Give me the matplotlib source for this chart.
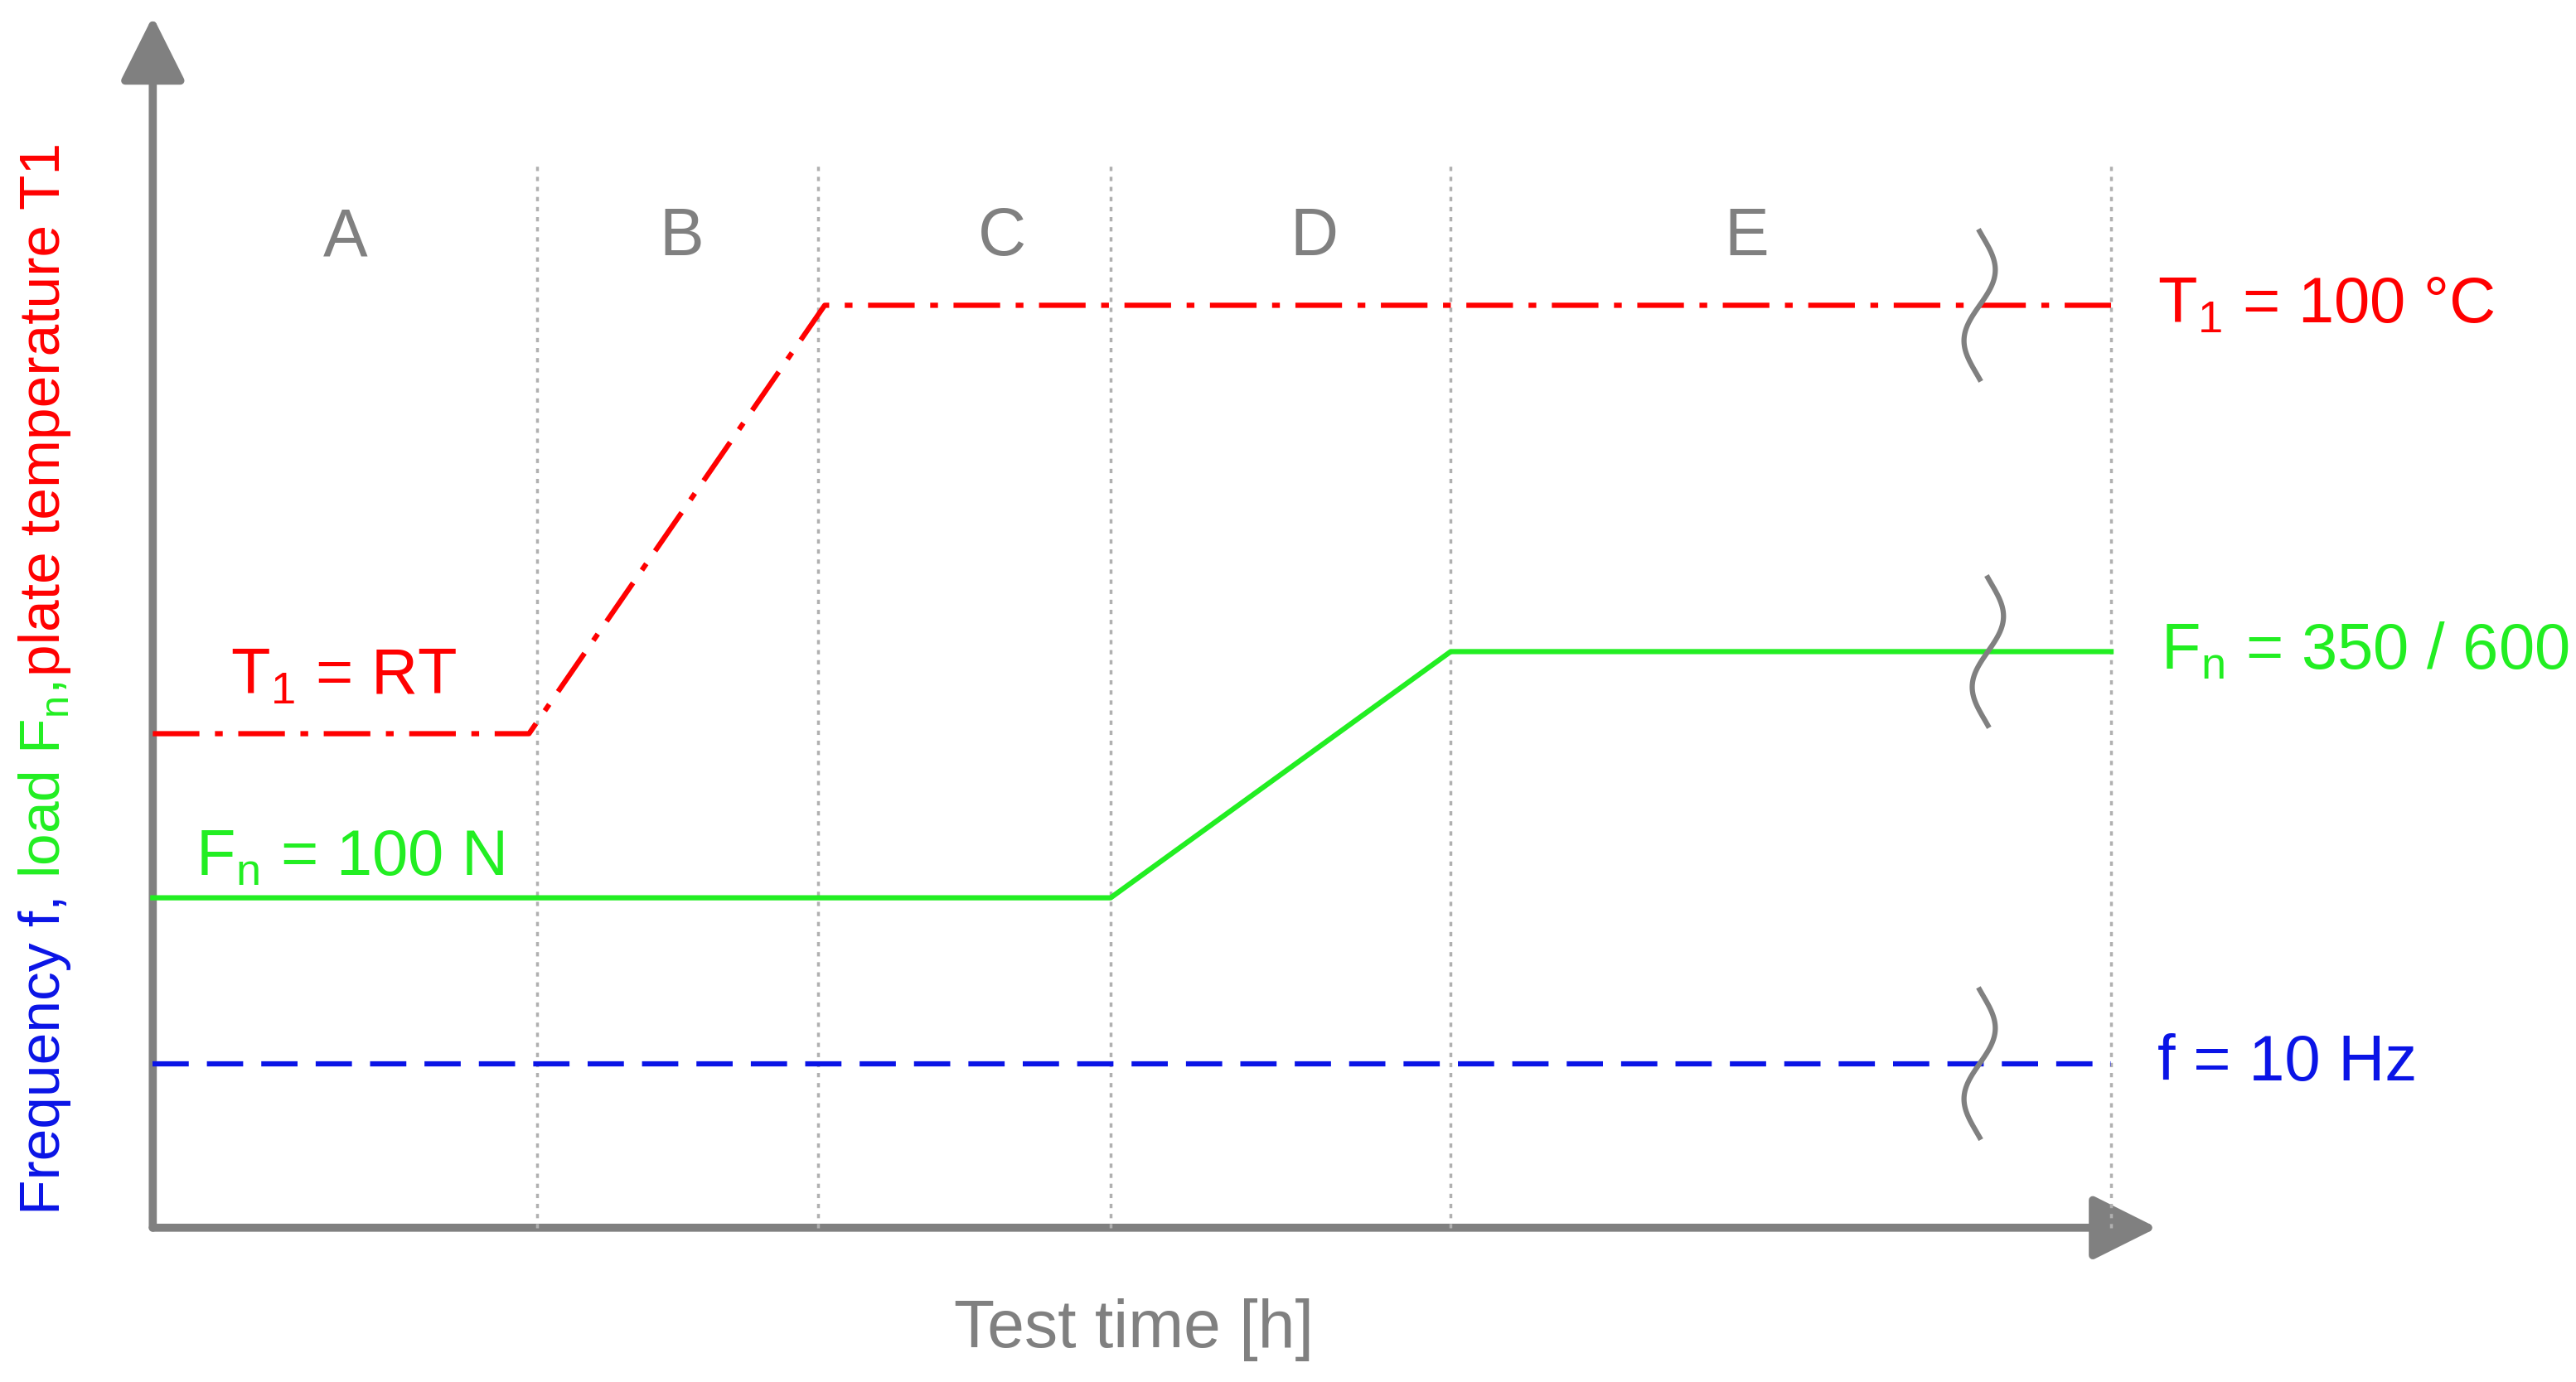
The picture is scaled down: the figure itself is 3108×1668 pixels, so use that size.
import matplotlib
matplotlib.use("Agg")
import matplotlib.pyplot as plt
import numpy as np
from matplotlib.patches import FancyArrowPatch

plt.rcParams['font.family'] = ['Liberation Sans', 'DejaVu Sans']
plt.rcParams['mathtext.fontset'] = 'custom'
plt.rcParams['mathtext.rm'] = 'Liberation Sans'

# data (chart units: x = test time position, y = level position, origin at axis corner)
phase_names = ['A', 'B', 'C', 'D', 'E']
phase_label_x = [117, 322, 517, 707, 970]
phase_bounds = [0, 234, 405, 583, 790, 1192]
temp_x = [0, 229, 409, 1192]
temp_y = [301, 301, 562, 562]
load_x = [0, 583, 790, 1192]
load_y = [201, 201, 351, 351]
freq_x = [0, 1192]
freq_y = [100, 100]

RED, GREEN, BLUE, GREY = '#ff0000', '#22ee22', '#0a14e6', '#808080'

fig = plt.figure(figsize=(31.08, 16.68), dpi=100)
ax = fig.add_axes([0, 0, 1, 1])
ox, oy = 93, 748
ax.set_xlim(-ox, 1568 - ox)
ax.set_ylim(oy - 842, oy)
ax.axis('off')

for (x0, y0, x1, y1) in [(0, 0, 1220, 0), (0, 0, 0, 738)]:
    ax.add_patch(FancyArrowPatch((x0, y0), (x1, y1), arrowstyle='-|>,head_length=1.6,head_width=0.8',
                                 mutation_scale=30, color=GREY, lw=7, shrinkA=0, shrinkB=0))

for b in phase_bounds[1:]:
    ax.plot([b, b], [0, 650], color='#b0b0b0', lw=2.5, ls=(0, (1.5, 2)))
for n, x in zip(phase_names, phase_label_x):
    ax.text(x, 603, n, color=GREY, fontsize=58, ha='center', va='center')

ax.plot(temp_x, temp_y, color=RED, lw=4.5, ls=(0, (9, 3, 1.5, 3)))
ax.plot(load_x, load_y, color=GREEN, lw=4.5)
ax.plot(freq_x, freq_y, color=BLUE, lw=4.5, ls=(0, (7, 3.5)))

t = np.linspace(-1, 1, 100)
for cy, cx in [(562, 1112), (351, 1117), (100, 1112)]:
    ax.plot(cx + 10 * np.sin(np.pi * t) * (1 - 0.2 * t**2), cy + 45 * t, color=GREY, lw=4.5)

ax.text(1220, 562, r'T$_\mathregular{1}$ = 100 °C', color=RED, fontsize=56, va='center')
ax.text(1222, 351, r'F$_\mathregular{n}$ = 350 / 600', color=GREEN, fontsize=56, va='center')
ax.text(1220, 100, 'f = 10 Hz', color=BLUE, fontsize=56, va='center')
ax.text(116, 336, r'T$_\mathregular{1}$ = RT', color=RED, fontsize=56, ha='center', va='center')
ax.text(120, 225, r'F$_\mathregular{n}$ = 100 N', color=GREEN, fontsize=56, ha='center', va='center')
ax.text(597, -62, 'Test time [h]', color=GREY, fontsize=58, ha='center', va='center')

# multicolour y label, chained piece by piece
fs = 50
t1 = ax.text(-66, 8, 'Frequency f, ', color=BLUE, fontsize=fs, rotation=90, ha='center', va='bottom')
t2 = ax.annotate(r'load F$_\mathregular{n}$, ', xy=(0.5, 1), xycoords=t1, color=GREEN, fontsize=fs,
                 rotation=90, ha='center', va='bottom', annotation_clip=False)
ax.annotate('plate temperature T1', xy=(0.5, 1), xycoords=t2, color=RED, fontsize=fs,
            rotation=90, ha='center', va='bottom', annotation_clip=False)

fig.savefig('out.png', dpi=100)
